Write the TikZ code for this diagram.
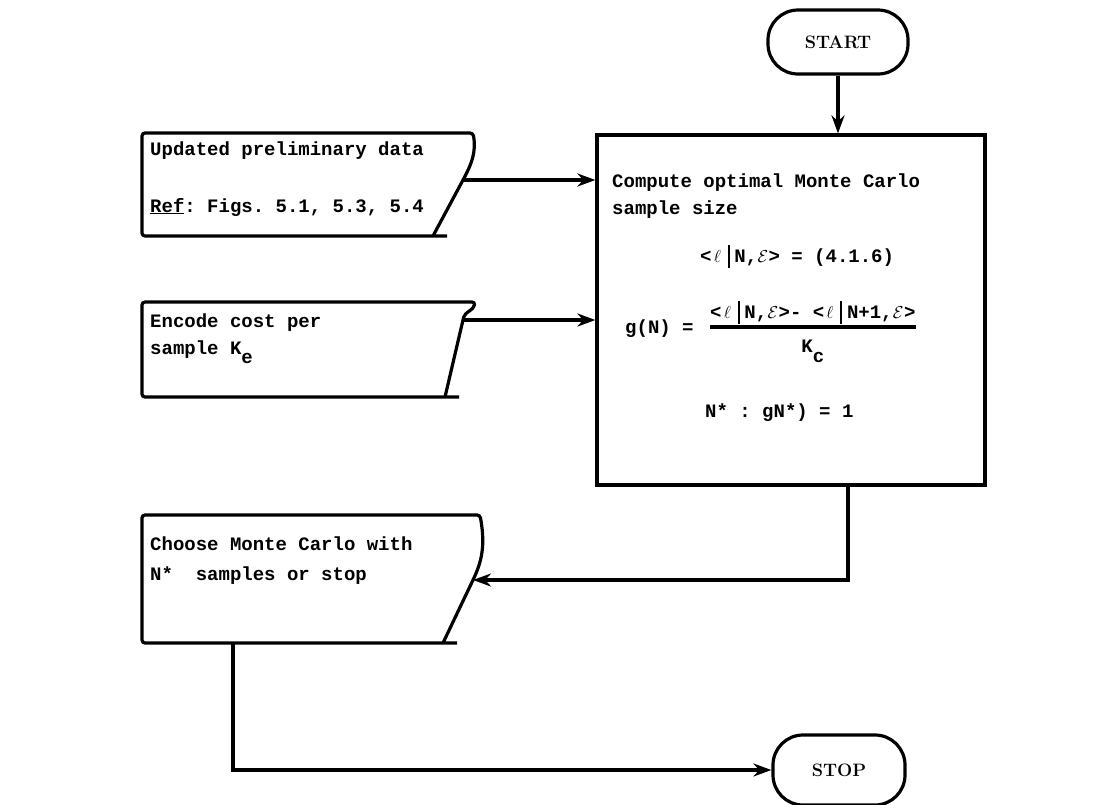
\documentclass[tikz,border=0pt]{standalone}
\usepackage{fontspec}
\setmonofont{Liberation Mono}
\usepackage{tikz}
\usetikzlibrary{arrows.meta,positioning}
\tikzstyle{term}=[draw,line width=3.2pt,rounded corners=30pt,minimum width=140pt,minimum height=64pt,font=\bfseries\fontsize{18}{22}\selectfont]
\tikzstyle{card}=[draw,line width=3.2pt,rounded corners=3pt]
\tikzstyle{edge}=[draw,line width=3.2pt,-{Stealth[length=18pt,width=13pt]}]
\tikzstyle{txt}=[anchor=base west,inner sep=0pt,font=\ttfamily\bfseries\fontsize{19}{27}\selectfont]
\newcommand{\slot}[1]{\makebox[.6em]{#1}}
\newcommand{\losscond}[1]{<\slot{$\ell$}\slot{\rule[-.3em]{.1em}{1.2em}}#1>}
\newcommand{\calE}{\slot{$\mathcal{E}$}}

\begin{document}
\begin{tikzpicture}[x=1pt,y=-1pt]
    \useasboundingbox (0,0) rectangle (1093,804);
    % terminals and the main box
    \node[term] (start) at (838,42) {START};
    \node[term,minimum width=132pt,minimum height=70pt] (stop) at (839,770) {STOP};
    \node[draw,line width=3.2pt,minimum width=388pt,minimum height=350pt] (compute) at (791,310) {};
    % input cards
    \foreach \name/\top/\bot/\tx/\ay/\ax/\bx/\ox/\iy in {upd/133/236/473/180/463/433/-80/62, enc/302/397/475/320/463/445/-100/76, choose/515/643/480/580/473/443/-80/65}
    {
        \draw[card] (\bx+14,\bot) -- (142,\bot) -- (142,\top) -- (\tx,\top) to[out=\ox,in=\iy] (\ax,\ay) -- (\bx,\bot);
        \coordinate (\name) at (\ax,\ay);
    }
    \coordinate (choosebot) at (233,643);
    % texts
    \node[txt] (upd1) at (150,155) {Updated preliminary data};
    \node[txt] (upd2) at (150,212) {\underline{Ref}: Figs. 5.1, 5.3, 5.4};
    \node[txt] (enc1) at (150,327) {Encode cost per};
    \node[txt] (enc2) at (150,354) {sample K\raisebox{-.5em}{e}};
    \node[txt] (cho1) at (150,550) {Choose Monte Carlo with};
    \node[txt] (cho2) at (150,580) {N*\ \ samples or stop};
    \node[txt] (cmp1) at (612,187) {Compute optimal Monte Carlo};
    \node[txt] (cmp2) at (612,214) {sample size};
    \node[txt] (eq1) at (700,262) {\losscond{N,\calE} = (4.1.6)};
    \node[txt] (gn) at (625,333) {g(N) =};
    \node[txt] (num) at (710,318) {\losscond{N,\calE}- \losscond{N+1,\calE}};
    \node[txt,anchor=north,below=16pt of num] (kc) {K\raisebox{-.5em}{c}};
    \node[txt] (nstar) at (705,417) {N* : gN*) = 1};
    \draw[card] ([yshift=-9pt]num.base west) -- ([yshift=-9pt]num.base east);
    % connectors
    \path[edge] (start) -- (start |- compute.north);
    \path[edge] (upd) -- (upd -| compute.west);
    \path[edge] (enc) -- (enc -| compute.west);
    \path[edge] ([xshift=57pt]compute.south) |- (choose);
    \path[edge] (choosebot) |- (stop);
\end{tikzpicture}
\end{document}
